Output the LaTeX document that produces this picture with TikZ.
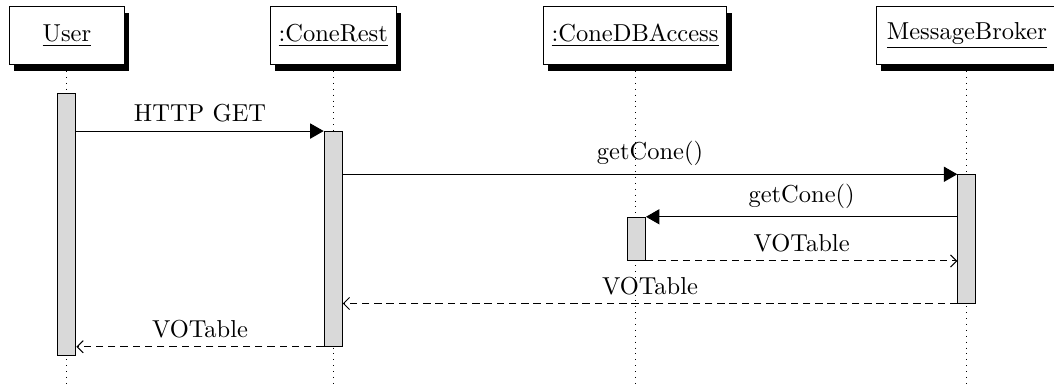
\documentclass[tikz,border=0pt]{standalone}
\usepackage{tikz}
\usetikzlibrary{arrows.meta,shadows,calc}

\begin{document}
\begin{tikzpicture}[>=Stealth, font=\normalsize,
  obj/.style={draw, fill=white, minimum width=1.65cm, minimum height=0.825cm,
    drop shadow={fill=black, opacity=1, shadow xshift=2pt, shadow yshift=-2.6pt}},
  life/.style={dotted},
  act/.style={draw, fill=gray!30, anchor=north, minimum width=0.26cm, inner sep=0pt},
  call/.style={-{Triangle[length=5.5pt,width=6.2pt]}},
  ret/.style={dash pattern=on 3pt off 2pt, -{Straight Barb[length=2.5pt,width=5pt]}}]
  \useasboundingbox (0,0) rectangle (15.12,-5.55);
  % objects and their lifelines
  \node[obj] (user) at (0.96,-0.51){\underline{User}};
  \node[obj] (rest) at (4.78,-0.51){\underline{:ConeRest}};
  \node[obj] (db) at (9.11,-0.51){\underline{:ConeDBAccess}};
  \node[obj, minimum width=2.6cm] (broker) at (13.87,-0.51){\underline{MessageBroker}};
  \foreach \o in {user,rest,db,broker}\draw[life]([yshift=-2.6pt]\o.south)--(\o.south |- 0,-5.55);
  % activation bars
  \node[act, minimum height=3.76cm] (ubar) at (0.96,-1.33){};
  \node[act, minimum height=3.08cm] (rbar) at (4.78,-1.88){};
  \node[act, minimum height=1.84cm] (bbar) at (13.87,-2.50){};
  \node[act, minimum height=0.62cm] (dbar) at (9.13,-3.11){};
  % calls and returns
  \draw[call](ubar.east |- rbar.north)--(rbar.north west) node[midway,above]{HTTP GET};
  \draw[call](rbar.east |- bbar.north)--(bbar.north west) node[midway,above]{getCone()};
  \draw[call](bbar.west |- dbar.north)--(dbar.north east) node[midway,above]{getCone()};
  \draw[ret](dbar.south east)--(bbar.west |- dbar.south) node[midway,above]{VOTable};
  \draw[ret](bbar.south west)--(rbar.east |- bbar.south) node[midway,above]{VOTable};
  \draw[ret](rbar.south west)--(ubar.east |- rbar.south) node[midway,above]{VOTable};
\end{tikzpicture}
\end{document}
